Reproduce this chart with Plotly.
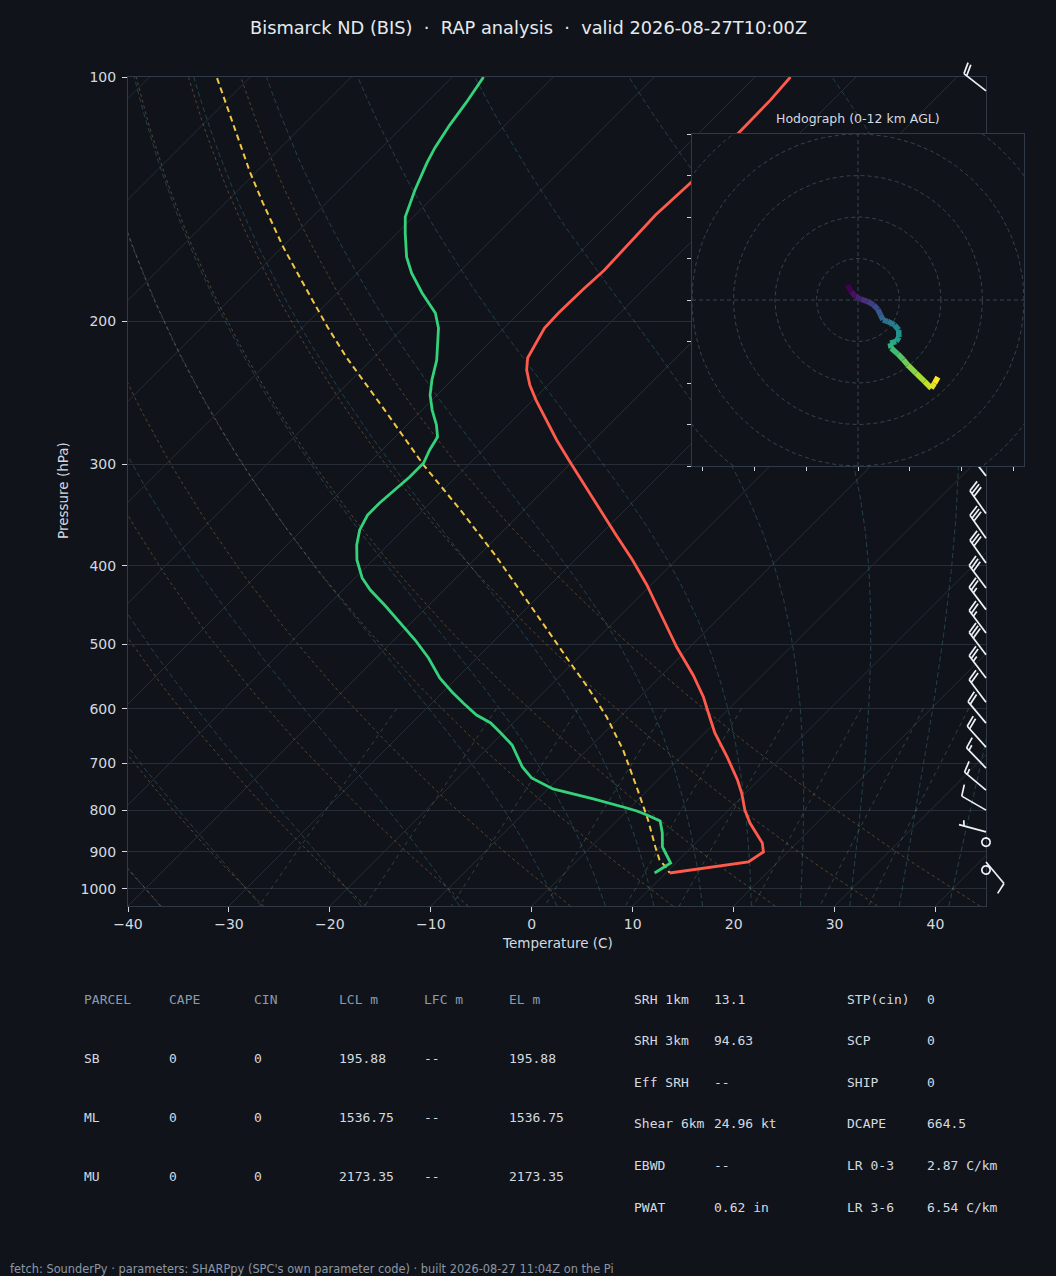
import numpy as np
import plotly.graph_objects as go
from plotly.colors import sample_colorscale

# Perfil de temperatura (hPa, C)
temp_p = [100.0, 106.7, 117.2, 134.7, 147.9, 160.2, 172.9, 183.0, 195.3, 203.8, 213.9, 221.9, 229.6,
          239.6, 250.0, 263.1, 280.0, 298.0, 318.1, 341.5, 366.6, 393.5, 422.4, 440.8, 466.5, 503.7,
          545.3, 580.4, 614.3, 642.8, 688.1, 734.5, 762.1, 799.7, 829.8, 878.2, 900.9, 926.8, 956.2]
temp_c = [-56.5, -56.2, -56.1, -55.9, -56.2, -56.0, -55.8, -56.0, -56.1, -56.0, -55.3, -54.7, -53.6,
          -51.8, -49.7, -47.0, -43.7, -40.2, -36.5, -32.5, -28.4, -24.3, -20.4, -18.2, -15.3, -11.3,
          -6.9, -3.7, -1.1, 1.0, 4.6, 7.9, 9.6, 11.6, 13.4, 16.6, 17.6, 17.1, 10.4]

# Ponto de orvalho
dewp_p = [100.0, 107.4, 114.6, 122.3, 127.6, 137.8, 148.7, 155.7, 166.6, 174.4, 184.5, 195.3, 203.8,
          223.2, 236.2, 246.4, 257.2, 268.3, 277.6, 288.0, 298.9, 311.0, 322.7, 334.8, 346.4, 361.4,
          377.2, 393.5, 414.1, 428.5, 447.1, 469.2, 493.8, 519.6, 550.0, 572.2, 590.4, 610.8, 624.8,
          641.0, 665.0, 707.9, 730.3, 753.4, 775.1, 795.2, 802.0, 811.2, 825.1, 853.6, 888.2, 908.6,
          929.4, 956.2]
dewp_c = [-86.9, -86.1, -85.5, -84.7, -84.0, -82.5, -80.8, -79.2, -76.7, -74.6, -71.6, -68.3, -66.5,
          -63.5, -62.0, -60.7, -59.0, -57.1, -55.8, -55.3, -54.6, -54.6, -54.8, -55.0, -55.0, -54.3,
          -53.1, -51.6, -49.3, -47.3, -44.4, -41.2, -37.9, -34.8, -31.7, -29.1, -26.9, -24.4, -22.2,
          -20.4, -17.9, -14.7, -12.7, -9.5, -4.5, -0.3, 1.0, 2.4, 4.3, 5.7, 7.1, 8.3,
          9.5, 8.9]

# Trajetoria da parcela
parcel_p = [100.3, 108.9, 117.9, 131.3, 142.9, 162.0, 183.0, 203.2, 221.9, 257.2, 300.6, 341.5,
            388.0, 440.8, 493.8, 519.6, 565.8, 614.3, 674.6, 749.2, 822.7, 888.2, 921.5, 942.7, 956.2]
parcel_c = [-113.2, -109.3, -105.6, -100.5, -96.3, -89.9, -83.3, -77.6, -72.6, -63.7, -54.4, -46.3,
            -38.4, -30.8, -24.1, -21.1, -16.0, -11.3, -6.4, -1.4, 3.0, 6.4, 8.1, 9.6, 10.4]

# Vento (barbelas): pressao, direcao (graus), velocidade (kt)
barb_p = [104, 310, 345, 370, 397, 426, 453, 484, 515, 550, 589, 625, 669, 710, 756, 800, 851, 876, 927, 948]
barb_dir = [308, 322, 325, 325, 325, 323, 323, 323, 323, 323, 323, 320, 318, 316, 310, 300, 285, 0, 140, 0]
barb_kt = [20, 30, 30, 30, 30, 30, 25, 25, 30, 25, 20, 20, 20, 15, 15, 10, 5, 0, 10, 0]

# Hodografa (kt)
hodo_u = [-5.1, -3.2, -1.1, 1.6, 4.8, 7.5, 9.6, 10.9, 12.0, 14.4, 17.6, 19.6, 19.7, 18.4, 15.5,
          16.0, 19.2, 21.9, 24.0, 28.0, 32.1, 35.3, 36.9, 38.5]
hodo_v = [7.2, 4.0, 1.6, 0.3, -0.8, -2.4, -4.5, -7.2, -9.6, -10.4, -12.0, -14.4, -17.9, -20.0, -20.8,
          -23.2, -26.0, -28.8, -31.3, -35.3, -39.3, -42.5, -40.1, -37.2]

p_ticks = [100, 200, 300, 400, 500, 600, 700, 800, 900, 1000]
t_ticks = list(range(-40, 41, 10))

# Tabela de parametros
parcel_cols = ["PARCEL", "CAPE", "CIN", "LCL m", "LFC m", "EL m"]
parcel_rows = [["SB", "0", "0", "195.88", "--", "195.88"],
               ["ML", "0", "0", "1536.75", "--", "1536.75"],
               ["MU", "0", "0", "2173.35", "--", "2173.35"]]
idx_left = [("SRH 1km", "13.1"), ("SRH 3km", "94.63"), ("Eff SRH", "--"),
            ("Shear 6km", "24.96 kt"), ("EBWD", "--"), ("PWAT", "0.62 in")]
idx_right = [("STP(cin)", "0"), ("SCP", "0"), ("SHIP", "0"),
             ("DCAPE", "664.5"), ("LR 0-3", "2.87 C/km"), ("LR 3-6", "6.54 C/km")]

title = "Bismarck ND (BIS)  \u00b7  RAP analysis  \u00b7  valid 2026-08-27T10:00Z"
footer = "fetch: SounderPy \u00b7 parameters: SHARPpy (SPC's own parameter code) \u00b7 built 2026-08-27 11:04Z on the Pi"

# ---- geometria ----
W, H = 1056, 1276
L0, R0, T0, B0 = 128, 986, 77, 906
X_MIN, X_MAX = -40, 45
P_BOT, P_TOP = 1050, 100
PX_DEG = (R0 - L0) / (X_MAX - X_MIN)
PX_LN = (B0 - T0) / np.log(P_BOT / P_TOP)
K = PX_LN / PX_DEG  # isotermas a 45 graus

BG = "#10141a"
GRID = "#262d36"
FRAME = "#303a46"
TXT = "#d4dae0"


def skew(t, p):
    return np.asarray(t, float) + K * np.log(P_BOT / np.asarray(p, float))


fig = go.Figure()

# isotermas
for t in range(-130, 50, 10):
    pp = np.array([P_BOT, P_TOP])
    fig.add_trace(go.Scatter(x=skew([t, t], pp), y=pp, mode="lines",
                             line=dict(color=GRID, width=1), hoverinfo="skip"))

# adiabaticas secas
pg = np.geomspace(P_BOT, P_TOP, 60)
for t0 in range(-40, 41, 10):
    tk = (t0 + 273.15) * (pg / 1000.0) ** 0.28571 - 273.15
    fig.add_trace(go.Scatter(x=skew(tk, pg), y=pg, mode="lines",
                             line=dict(color="rgba(230,165,80,0.33)", width=1, dash="3px,3px"),
                             hoverinfo="skip"))

# adiabaticas umidas
RD, CP, LV, EPS = 287.04749, 1004.6662, 2.50084e6, 0.6219569


def es(tk):
    return 6.112 * np.exp(17.67 * (tk - 273.15) / (tk - 29.65))


def dtdp(p, tk):
    e = es(tk)
    rs = EPS * e / (p - e)
    return (RD * tk + LV * rs) / (CP + LV * LV * rs * EPS / (RD * tk * tk)) / p


def integrate(tk, grid):
    out = [tk]
    for i in range(len(grid) - 1):
        p, h = grid[i], grid[i + 1] - grid[i]
        k1 = dtdp(p, tk)
        k2 = dtdp(p + h / 2, tk + h / 2 * k1)
        k3 = dtdp(p + h / 2, tk + h / 2 * k2)
        k4 = dtdp(p + h, tk + h * k3)
        tk = tk + h / 6 * (k1 + 2 * k2 + 2 * k3 + k4)
        out.append(tk)
    return np.array(out)


p_up = np.linspace(1000, 100, 181)
p_dn = np.linspace(1000, 1050, 11)
moist_t0 = list(range(-40, 0, 10)) + list(range(0, 46, 5))
for t0 in moist_t0:
    up = integrate(t0 + 273.15, p_up)
    dn = integrate(t0 + 273.15, p_dn)
    pp = np.concatenate([p_dn[::-1], p_up[1:]])
    tt = np.concatenate([dn[::-1], up[1:]]) - 273.15
    fig.add_trace(go.Scatter(x=skew(tt, pp), y=pp, mode="lines",
                             line=dict(color="rgba(80,180,200,0.28)", width=1, dash="5px,3px"),
                             hoverinfo="skip"))

# razao de mistura
pm = np.linspace(600, P_BOT, 40)
for w in [0.0004, 0.001, 0.002, 0.004, 0.007, 0.01, 0.016, 0.024, 0.032]:
    e = w * pm / (EPS + w)
    lg = np.log(e / 6.112)
    td = 243.5 * lg / (17.67 - lg)
    fig.add_trace(go.Scatter(x=skew(td, pm), y=pm, mode="lines",
                             line=dict(color="rgba(120,170,160,0.3)", width=1, dash="4px,4px"),
                             hoverinfo="skip"))

# perfis
fig.add_trace(go.Scatter(x=skew(parcel_c, parcel_p), y=parcel_p, mode="lines",
                         line=dict(color="#f2c744", width=2, dash="6px,4px")))
fig.add_trace(go.Scatter(x=skew(temp_c, temp_p), y=temp_p, mode="lines",
                         line=dict(color="#ff5a4c", width=2.8)))
fig.add_trace(go.Scatter(x=skew(dewp_c, dewp_p), y=dewp_p, mode="lines",
                         line=dict(color="#34d27b", width=2.8)))

# barbelas (eixo x2/y2 cobrindo a figura toda, sem corte)
SHAFT = 28.0


def barb(x0, p0, wdir, spd):
    xs, ys = [], []

    def add(pts):
        for dx, dy in pts:
            xs.append(x0 + dx / PX_DEG)
            ys.append(p0 * np.exp(-dy / PX_LN))
        xs.append(None)
        ys.append(None)

    if spd < 2.5:
        a = np.linspace(0, 2 * np.pi, 25)
        r = 0.15 * SHAFT
        add(list(zip(r * np.cos(a), r * np.sin(a))))
        return xs, ys
    rad = np.radians(wdir)
    sx, sy = np.sin(rad), np.cos(rad)
    nx, ny = sy, -sx
    add([(0, 0), (SHAFT * sx, SHAFT * sy)])
    s5 = int(5 * round(spd / 5.0))
    nfull, half = s5 // 10, (s5 % 10) == 5
    hgt, wid, spc = 0.4 * SHAFT, 0.25 * SHAFT, 0.125 * SHAFT
    off = SHAFT
    for _ in range(nfull):
        add([(off * sx, off * sy),
             ((off + wid / 2) * sx + hgt * nx, (off + wid / 2) * sy + hgt * ny)])
        off -= spc
    if half:
        if off == SHAFT:
            off -= 1.5 * spc
        add([(off * sx, off * sy),
             ((off + wid / 4) * sx + hgt / 2 * nx, (off + wid / 4) * sy + hgt / 2 * ny)])
    return xs, ys


bx, by = [], []
for p, d, s in zip(barb_p, barb_dir, barb_kt):
    xx, yy = barb(X_MAX, p, d, s)
    bx += xx
    by += yy
fig.add_trace(go.Scatter(x=bx, y=by, mode="lines", xaxis="x2", yaxis="y2",
                         line=dict(color="#eef2f6", width=1.7), hoverinfo="skip"))

# hodografa (x3/y3) - fundo opaco
fig.add_trace(go.Scatter(x=[-80, 80, 80, -80, -80], y=[-80, -80, 80, 80, -80], mode="lines",
                         fill="toself", fillcolor=BG, line=dict(width=0),
                         xaxis="x3", yaxis="y3", hoverinfo="skip"))
ang = np.linspace(0, 2 * np.pi, 181)
for r in [20, 40, 60, 80, 100]:
    fig.add_trace(go.Scatter(x=r * np.cos(ang), y=r * np.sin(ang), mode="lines",
                             line=dict(color="#36424f", width=1, dash="4px,3px"),
                             xaxis="x3", yaxis="y3", hoverinfo="skip"))
fig.add_trace(go.Scatter(x=[-80, 80, None, 0, 0], y=[0, 0, None, -80, 80], mode="lines",
                         line=dict(color="#36424f", width=1, dash="4px,3px"),
                         xaxis="x3", yaxis="y3", hoverinfo="skip"))
cols = sample_colorscale("Viridis", list(np.linspace(0, 1, len(hodo_u) - 1)))
for i in range(len(hodo_u) - 1):
    fig.add_trace(go.Scatter(x=hodo_u[i:i + 2], y=hodo_v[i:i + 2], mode="lines",
                             line=dict(color=cols[i], width=5.5),
                             xaxis="x3", yaxis="y3", hoverinfo="skip"))

# ---- eixos ----
fx = lambda px: px / W
fy = lambda py: 1 - py / H

x2_rng = [X_MIN - L0 / PX_DEG, X_MIN + (W - L0) / PX_DEG]
y2_rng = [np.log10(P_BOT * np.exp((H - B0) / PX_LN)), np.log10(P_TOP * np.exp(-T0 / PX_LN))]

fig.update_layout(
    width=W, height=H, showlegend=False, autosize=False,
    paper_bgcolor=BG, plot_bgcolor="rgba(0,0,0,0)",
    margin=dict(l=0, r=0, t=0, b=0, pad=0, autoexpand=False),
    font=dict(family="DejaVu Sans", color=TXT),
    xaxis=dict(domain=[fx(L0), fx(R0)], range=[X_MIN, X_MAX], tickvals=t_ticks, automargin=False,
               ticks="outside", ticklen=5, tickcolor=TXT, tickfont=dict(size=14, color=TXT),
               showline=True, mirror=True, linecolor=FRAME, showgrid=False, zeroline=False),
    yaxis=dict(domain=[fy(B0), fy(T0)], type="log", automargin=False,
               range=[np.log10(P_BOT), np.log10(P_TOP)],
               tickvals=p_ticks, ticktext=[str(v) for v in p_ticks],
               ticks="outside", ticklen=5, tickcolor=TXT, tickfont=dict(size=14, color=TXT),
               ticklabelstandoff=3,
               showline=True, mirror=True, linecolor=FRAME,
               showgrid=True, gridcolor=GRID, gridwidth=1, zeroline=False),
    xaxis2=dict(domain=[0, 1], range=x2_rng, visible=False, anchor="y2", automargin=False),
    yaxis2=dict(domain=[0, 1], type="log", range=y2_rng, visible=False, anchor="x2", automargin=False),
    xaxis3=dict(domain=[fx(692), fx(1024)], range=[-80, 80], anchor="y3", automargin=False,
                tickvals=list(range(-75, 76, 25)), ticks="outside", ticklen=4, tickcolor="#c9d1d9",
                showticklabels=False, showline=True, mirror=True, linecolor=FRAME,
                showgrid=False, zeroline=False),
    yaxis3=dict(domain=[fy(466), fy(134)], range=[-80, 80], anchor="x3", automargin=False,
                tickvals=list(range(-80, 81, 20)), ticks="outside", ticklen=4, tickcolor="#c9d1d9",
                showticklabels=False, showline=True, mirror=True, linecolor=FRAME,
                showgrid=False, zeroline=False),
)

ann = []


def text(s, px, py, size=13, color=TXT, anchor="left", family="DejaVu Sans", angle=0):
    if anchor == "left":
        px -= 2
    ann.append(dict(text=s, x=fx(px), y=fy(py), xref="paper", yref="paper",
                    xanchor=anchor, yanchor="middle", showarrow=False, textangle=angle,
                    font=dict(size=size, color=color, family=family)))


text(title, 528, 27, size=17.8, color="#e6eaee", anchor="center")
text("Temperature (C)", 557, 943, size=13.5, anchor="center")
text("Pressure (hPa)", 63, 491, size=13.5, anchor="center", angle=-90)
text("Hodograph (0-12 km AGL)", 858, 119, size=12.5, anchor="center")

MONO = "DejaVu Sans Mono"
col_x = [84, 169, 254, 339, 424, 509]
for cx, name in zip(col_x, parcel_cols):
    text(name, cx, 999, family=MONO, color="#8a9bb0")
for r, row in enumerate(parcel_rows):
    for cx, v in zip(col_x, row):
        text(v, cx, 1058 + 59 * r, family=MONO)
for r, (a, b) in enumerate(idx_left):
    text(a, 634, 999 + 41.6 * r, family=MONO)
    text(b, 714, 999 + 41.6 * r, family=MONO)
for r, (a, b) in enumerate(idx_right):
    text(a, 847, 999 + 41.6 * r, family=MONO)
    text(b, 927, 999 + 41.6 * r, family=MONO)

text(footer, 10, 1269, size=11.4, color="#8d97a3")

fig.update_layout(annotations=ann)
page_css = ("document.body.style.margin='0';document.body.style.padding='0';"
            "document.body.style.background='" + BG + "';"
            "document.body.style.overflow='hidden';")
fig.write_html("out.html", post_script=page_css, config={"displayModeBar": False})
